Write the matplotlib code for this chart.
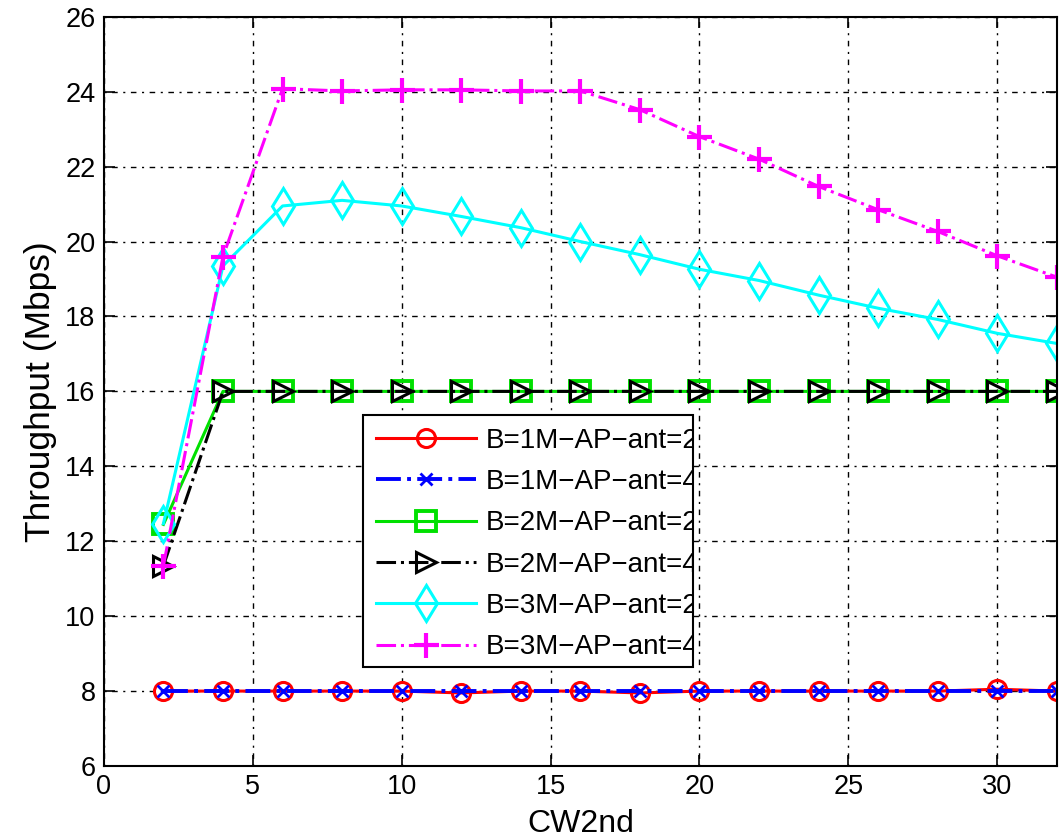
import matplotlib
matplotlib.use("Agg")
import matplotlib.pyplot as plt
from matplotlib.patches import Rectangle

plt.rcParams['font.family'] = ['Liberation Sans', 'DejaVu Sans']

cw = [2, 4, 6, 8, 10, 12, 14, 16, 18, 20, 22, 24, 26, 28, 30, 32]
b1_ant2 = [8.0, 8.0, 8.0, 8.0, 8.0, 7.95, 8.0, 8.0, 7.95, 8.0, 8.0, 8.0, 8.0, 8.0, 8.05, 8.0]
b1_ant4 = [8.0, 8.0, 8.0, 8.0, 8.0, 8.0, 8.0, 8.0, 8.0, 8.0, 8.0, 8.0, 8.0, 8.0, 8.0, 8.0]
b2_ant2 = [12.45, 16.0, 16.0, 16.0, 16.0, 16.0, 16.0, 16.0, 16.0, 16.0, 16.0, 16.0, 16.0, 16.0, 16.0, 16.0]
b2_ant4 = [11.35, 16.0, 16.0, 16.0, 16.0, 16.0, 16.0, 16.0, 16.0, 16.0, 16.0, 16.0, 16.0, 16.0, 16.0, 16.0]
b3_ant2 = [12.47, 19.35, 20.95, 21.1, 20.95, 20.67, 20.37, 20.0, 19.65, 19.26, 18.96, 18.57, 18.22, 17.92, 17.55, 17.28]
b3_ant4 = [11.35, 19.6, 24.08, 24.02, 24.05, 24.05, 24.02, 24.02, 23.52, 22.8, 22.2, 21.47, 20.85, 20.27, 19.62, 19.05]

labels = ["B=1M\u2212AP\u2212ant=2", "B=1M\u2212AP\u2212ant=4", "B=2M\u2212AP\u2212ant=2",
          "B=2M\u2212AP\u2212ant=4", "B=3M\u2212AP\u2212ant=2", "B=3M\u2212AP\u2212ant=4"]
x_ticks = [0, 5, 10, 15, 20, 25, 30]
y_ticks = [6, 8, 10, 12, 14, 16, 18, 20, 22, 24, 26]

fig = plt.figure(figsize=(10.6, 8.39), dpi=100)
ax = fig.add_axes([0.098, 0.087, 0.899, 0.893])

ax.plot(cw, b1_ant2, color='#ff0000', ls='-', lw=2.2, marker='o', ms=13, mfc='none', mew=2.2, label=labels[0])
ax.plot(cw, b1_ant4, color='#0000ff', ls='-.', lw=2.8, marker='x', ms=9, mew=2, label=labels[1])
ax.plot(cw, b2_ant2, color='#00e000', ls='-', lw=2.2, marker='s', ms=14, mfc='none', mew=2.8, label=labels[2])
ax.plot(cw, b2_ant4, color='black', ls='-.', lw=2.2, marker='>', ms=14, mfc='none', mew=2.2, label=labels[3])
ax.plot(cw, b3_ant2, color='#00ffff', ls='-', lw=2.2, marker='d', ms=18, mfc='none', mew=2.2, label=labels[4])
ax.plot(cw, b3_ant4, color='#ff00ff', ls='-.', lw=2.2, marker='+', ms=18, mew=3, label=labels[5])

ax.set_xlim(0, 32)
ax.set_ylim(6, 26)
ax.set_xticks(x_ticks)
ax.set_yticks(y_ticks)
ax.tick_params(direction='in', length=8, width=1.2, top=True, right=True, labelsize=19.5, pad=6)
ax.grid(True, color='black', ls=(0, (1.5, 4, 4, 4)), lw=1)
for s in ax.spines.values():
    s.set_linewidth(1.5)

ax.set_xlabel('CW2nd', fontsize=23, labelpad=6)
ax.set_ylabel('Throughput (Mbps)', fontsize=25.5, labelpad=6)

lx0, ly0, lw_, lh_ = 0.272, 0.132, 0.346, 0.336
rect = Rectangle((lx0, ly0), lw_, lh_, transform=ax.transAxes, facecolor='white',
                 edgecolor='black', lw=1.5, zorder=4)
ax.add_patch(rect)
leg = ax.legend(loc='upper left', bbox_to_anchor=(lx0, ly0 + lh_), borderaxespad=0,
                frameon=False, fontsize=20, handlelength=3.6, handletextpad=0.35,
                borderpad=0.45, labelspacing=0.55)
leg.set_zorder(5)
for t in leg.get_texts():
    t.set_clip_path(rect)

fig.savefig('out.png', dpi=100)
